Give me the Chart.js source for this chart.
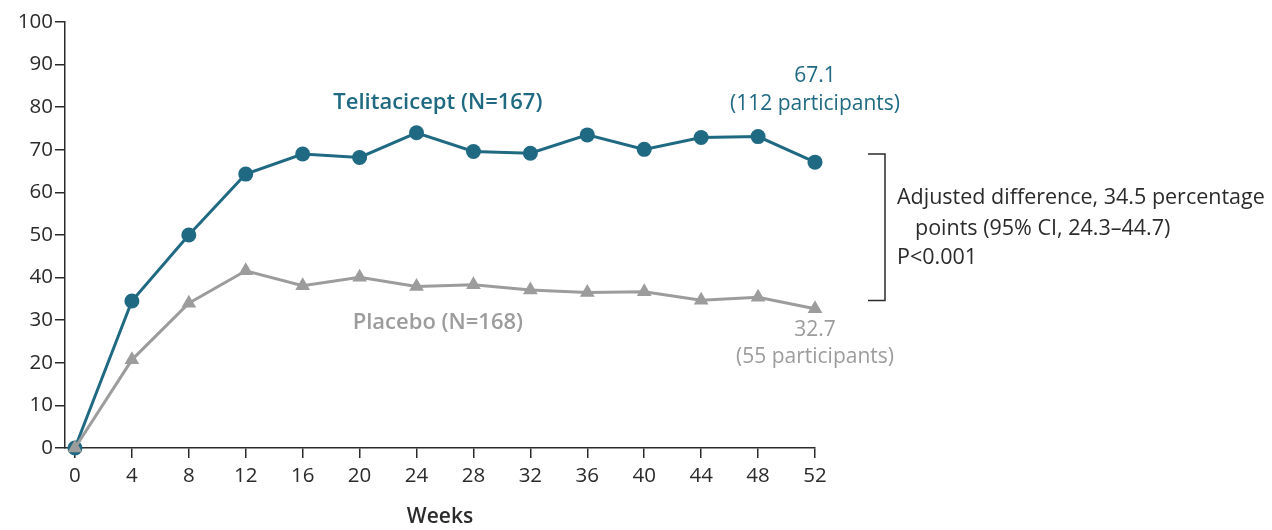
<!DOCTYPE html>
<html>
<head>
<meta charset="utf-8">
<script src="https://cdn.jsdelivr.net/npm/chart.js@4.4.1/dist/chart.umd.min.js"></script>
<style>
  html, body { margin: 0; padding: 0; background: #ffffff; }
  #wrap { width: 1272px; height: 530px; position: relative; }
</style>
</head>
<body>
<div id="wrap"><canvas id="c" width="1272" height="530"></canvas></div>
<script>
// Study weeks and response rates (%)
const weeks = [0, 4, 8, 12, 16, 20, 24, 28, 32, 36, 40, 44, 48, 52];
const telitacicept = [0, 34.5, 50.0, 64.3, 69.0, 68.2, 74.0, 69.6, 69.2, 73.5, 70.1, 72.9, 73.1, 67.1];
const placebo = [0, 20.7, 34.0, 41.6, 38.1, 40.1, 37.9, 38.3, 37.1, 36.5, 36.7, 34.7, 35.4, 32.7];
const yTicks = [0, 10, 20, 30, 40, 50, 60, 70, 80, 90, 100];

const TEAL = '#1f6a82';
const GRAY = '#9c9c9c';
const INK = '#2b2b2b';
const FONT = '"Open Sans", "Liberation Sans", sans-serif';

// Text labels and the difference bracket beside the week-52 values
const notes = {
  id: 'notes',
  afterDatasetsDraw(chart) {
    const { ctx, scales: { x, y } } = chart;
    ctx.save();
    ctx.textBaseline = 'middle';
    ctx.textAlign = 'center';

    ctx.fillStyle = TEAL;
    ctx.font = '600 22px ' + FONT;
    ctx.fillText('Telitacicept (N=167)', x.getPixelForValue(25.5), y.getPixelForValue(81));
    ctx.font = '21px ' + FONT;
    ctx.fillText(telitacicept[13].toFixed(1), x.getPixelForValue(52), y.getPixelForValue(87.4));
    ctx.fillText('(112 participants)', x.getPixelForValue(52), y.getPixelForValue(80.8));

    ctx.fillStyle = GRAY;
    ctx.font = '600 22px ' + FONT;
    ctx.fillText('Placebo (N=168)', x.getPixelForValue(25.5), y.getPixelForValue(29.3));
    ctx.font = '21px ' + FONT;
    ctx.fillText(placebo[13].toFixed(1), x.getPixelForValue(52), y.getPixelForValue(27.7));
    ctx.fillText('(55 participants)', x.getPixelForValue(52), y.getPixelForValue(21.3));

    // bracket spanning the two week-52 results
    const bx = x.right + 70;
    const top = y.getPixelForValue(69);
    const bot = y.getPixelForValue(34.6);
    ctx.strokeStyle = INK;
    ctx.lineWidth = 1.5;
    ctx.beginPath();
    ctx.moveTo(bx - 17, top);
    ctx.lineTo(bx, top);
    ctx.lineTo(bx, bot);
    ctx.lineTo(bx - 17, bot);
    ctx.stroke();

    ctx.fillStyle = INK;
    ctx.textAlign = 'left';
    ctx.font = '21.5px ' + FONT;
    ctx.fillText('Adjusted difference, 34.5 percentage', bx + 12, y.getPixelForValue(58.8));
    ctx.fillText('points (95% CI, 24.3\u201344.7)', bx + 30, y.getPixelForValue(51.4));
    ctx.fillText('P<0.001', bx + 12, y.getPixelForValue(44.6));
    ctx.restore();
  }
};

new Chart(document.getElementById('c'), {
  type: 'line',
  data: {
    datasets: [
      {
        label: 'Telitacicept (N=167)',
        data: weeks.map((w, i) => ({ x: w, y: telitacicept[i] })),
        borderColor: TEAL,
        backgroundColor: TEAL,
        borderWidth: 3,
        pointStyle: 'circle',
        pointRadius: 7.5,
        pointBorderWidth: 0,
        clip: false,
        order: 1
      },
      {
        label: 'Placebo (N=168)',
        data: weeks.map((w, i) => ({ x: w, y: placebo[i] })),
        borderColor: GRAY,
        backgroundColor: GRAY,
        borderWidth: 3,
        pointStyle: 'triangle',
        pointRadius: 8.5,
        pointBorderWidth: 0,
        clip: false,
        order: 0
      }
    ]
  },
  options: {
    responsive: false,
    animation: false,
    layout: { padding: { left: 0, right: 457, top: 22, bottom: 0 } },
    plugins: { legend: { display: false }, tooltip: { enabled: false } },
    scales: {
      x: {
        type: 'linear',
        min: -0.7,
        max: 52,
        afterBuildTicks: s => { s.ticks = weeks.map(v => ({ value: v })); },
        afterFit: s => { s.height = 82; },
        grid: { drawOnChartArea: false, drawTicks: true, tickLength: 10, color: INK, lineWidth: 1.5 },
        border: { color: INK, width: 1.5 },
        ticks: { color: INK, font: { family: FONT, size: 20.5 }, padding: 6, maxRotation: 0, autoSkip: false },
        title: { display: true, text: 'Weeks', color: INK, font: { family: FONT, size: 21, weight: '600' }, padding: { top: 10, bottom: 0 } }
      },
      y: {
        min: 0,
        max: 100,
        afterBuildTicks: s => { s.ticks = yTicks.map(v => ({ value: v })); },
        afterFit: s => { s.width = 65; },
        grid: { drawOnChartArea: false, drawTicks: true, tickLength: 10, color: INK, lineWidth: 1.5 },
        border: { color: INK, width: 1.5 },
        ticks: { color: INK, font: { family: FONT, size: 20.5 }, padding: 2 }
      }
    }
  },
  plugins: [notes]
});
</script>
</body>
</html>
